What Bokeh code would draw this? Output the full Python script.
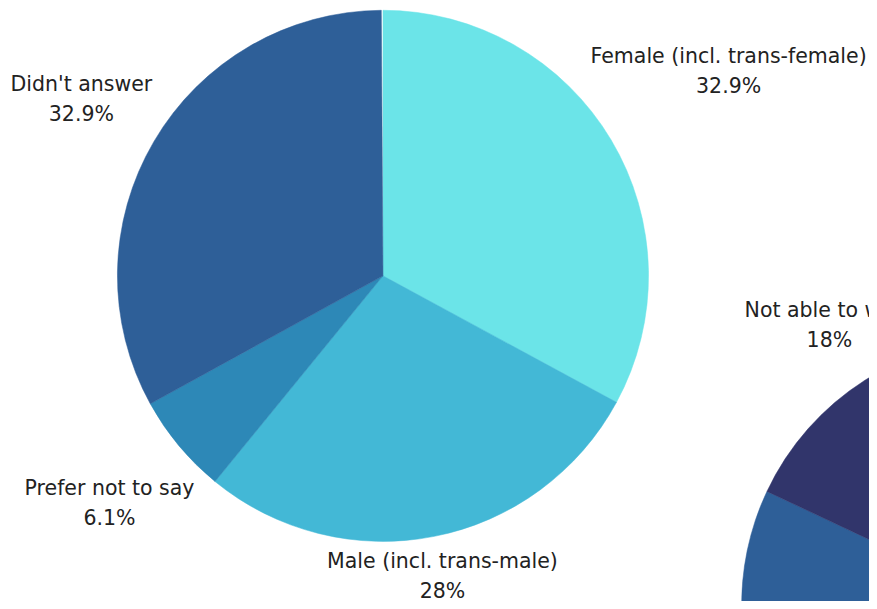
import math
from bokeh.plotting import figure
from bokeh.models import Range1d, ColumnDataSource
from bokeh.core.properties import value
from bokeh.embed import file_html
from bokeh.resources import INLINE

# ---- data (percent) ----
gender_labels = ["Female (incl. trans-female)", "Male (incl. trans-male)", "Prefer not to say", "Didn't answer"]
gender_values = [32.9, 28.0, 6.1, 32.9]
gender_colors = ["#6BE4E8", "#43B8D6", "#2D88B7", "#2E5F98"]

# second pie: only the part that is visible in the frame
work_labels = ["", "Not able to work"]
work_values = [30.0, 18.0]
work_colors = ["#2E5F98", "#31356B"]

# ---- layout (reference-pixel data units, y up) ----
W, H = 869, 601
RW, RH = 877, 609
R = 268
c1 = (386, RH - 279)
c2 = (1016, RH - 612)
label_dist1 = [1.515, 1.157, 1.34, 1.317]
label_dist2 = [1.25, 1.25]

p = figure(width=W, height=H, x_range=Range1d(0, RW), y_range=Range1d(0, RH),
           output_backend="svg", toolbar_location=None, min_border=0)
p.axis.visible = False
p.grid.visible = False
p.outline_line_color = None
p.background_fill_color = "white"
p.border_fill_color = "white"


def draw_pie(center, labels, values, colors, dists, total=100.0, clockwise_end_at_top=False):
    starts, ends, lx, ly, txt = [], [], [], [], []
    n = len(values)
    cum = total - sum(values) if clockwise_end_at_top else 0.0
    for i in range(n):
        a0 = math.pi / 2 - 2 * math.pi * (cum + values[i]) / total
        a1 = math.pi / 2 - 2 * math.pi * cum / total
        starts.append(a0)
        ends.append(a1)
        mid = (a0 + a1) / 2
        d = R * dists[i]
        lx.append(center[0] + d * math.cos(mid))
        ly.append(center[1] + d * math.sin(mid))
        pct = f"{values[i]:g}%"
        txt.append(labels[i] + "\n" + pct if labels[i] else "")
        cum += values[i]
    src = ColumnDataSource(dict(x=[center[0]] * n, y=[center[1]] * n, s=starts, e=ends,
                                c=colors, lx=lx, ly=ly, t=txt))
    p.wedge(x="x", y="y", radius=R, start_angle="s", end_angle="e", fill_color="c",
            line_color="c", line_width=0.5, source=src)
    p.text(x="lx", y="ly", text="t", source=src, text_align="center", text_baseline="middle",
           text_font=value("DejaVu Sans"), text_font_size="20.5px", text_color="#222222",
           text_line_height=1.25)


draw_pie(c1, gender_labels, gender_values, gender_colors, label_dist1)
draw_pie(c2, work_labels, work_values, work_colors, label_dist2, clockwise_end_at_top=True)

open("out.html", "w").write(file_html(p, INLINE))
